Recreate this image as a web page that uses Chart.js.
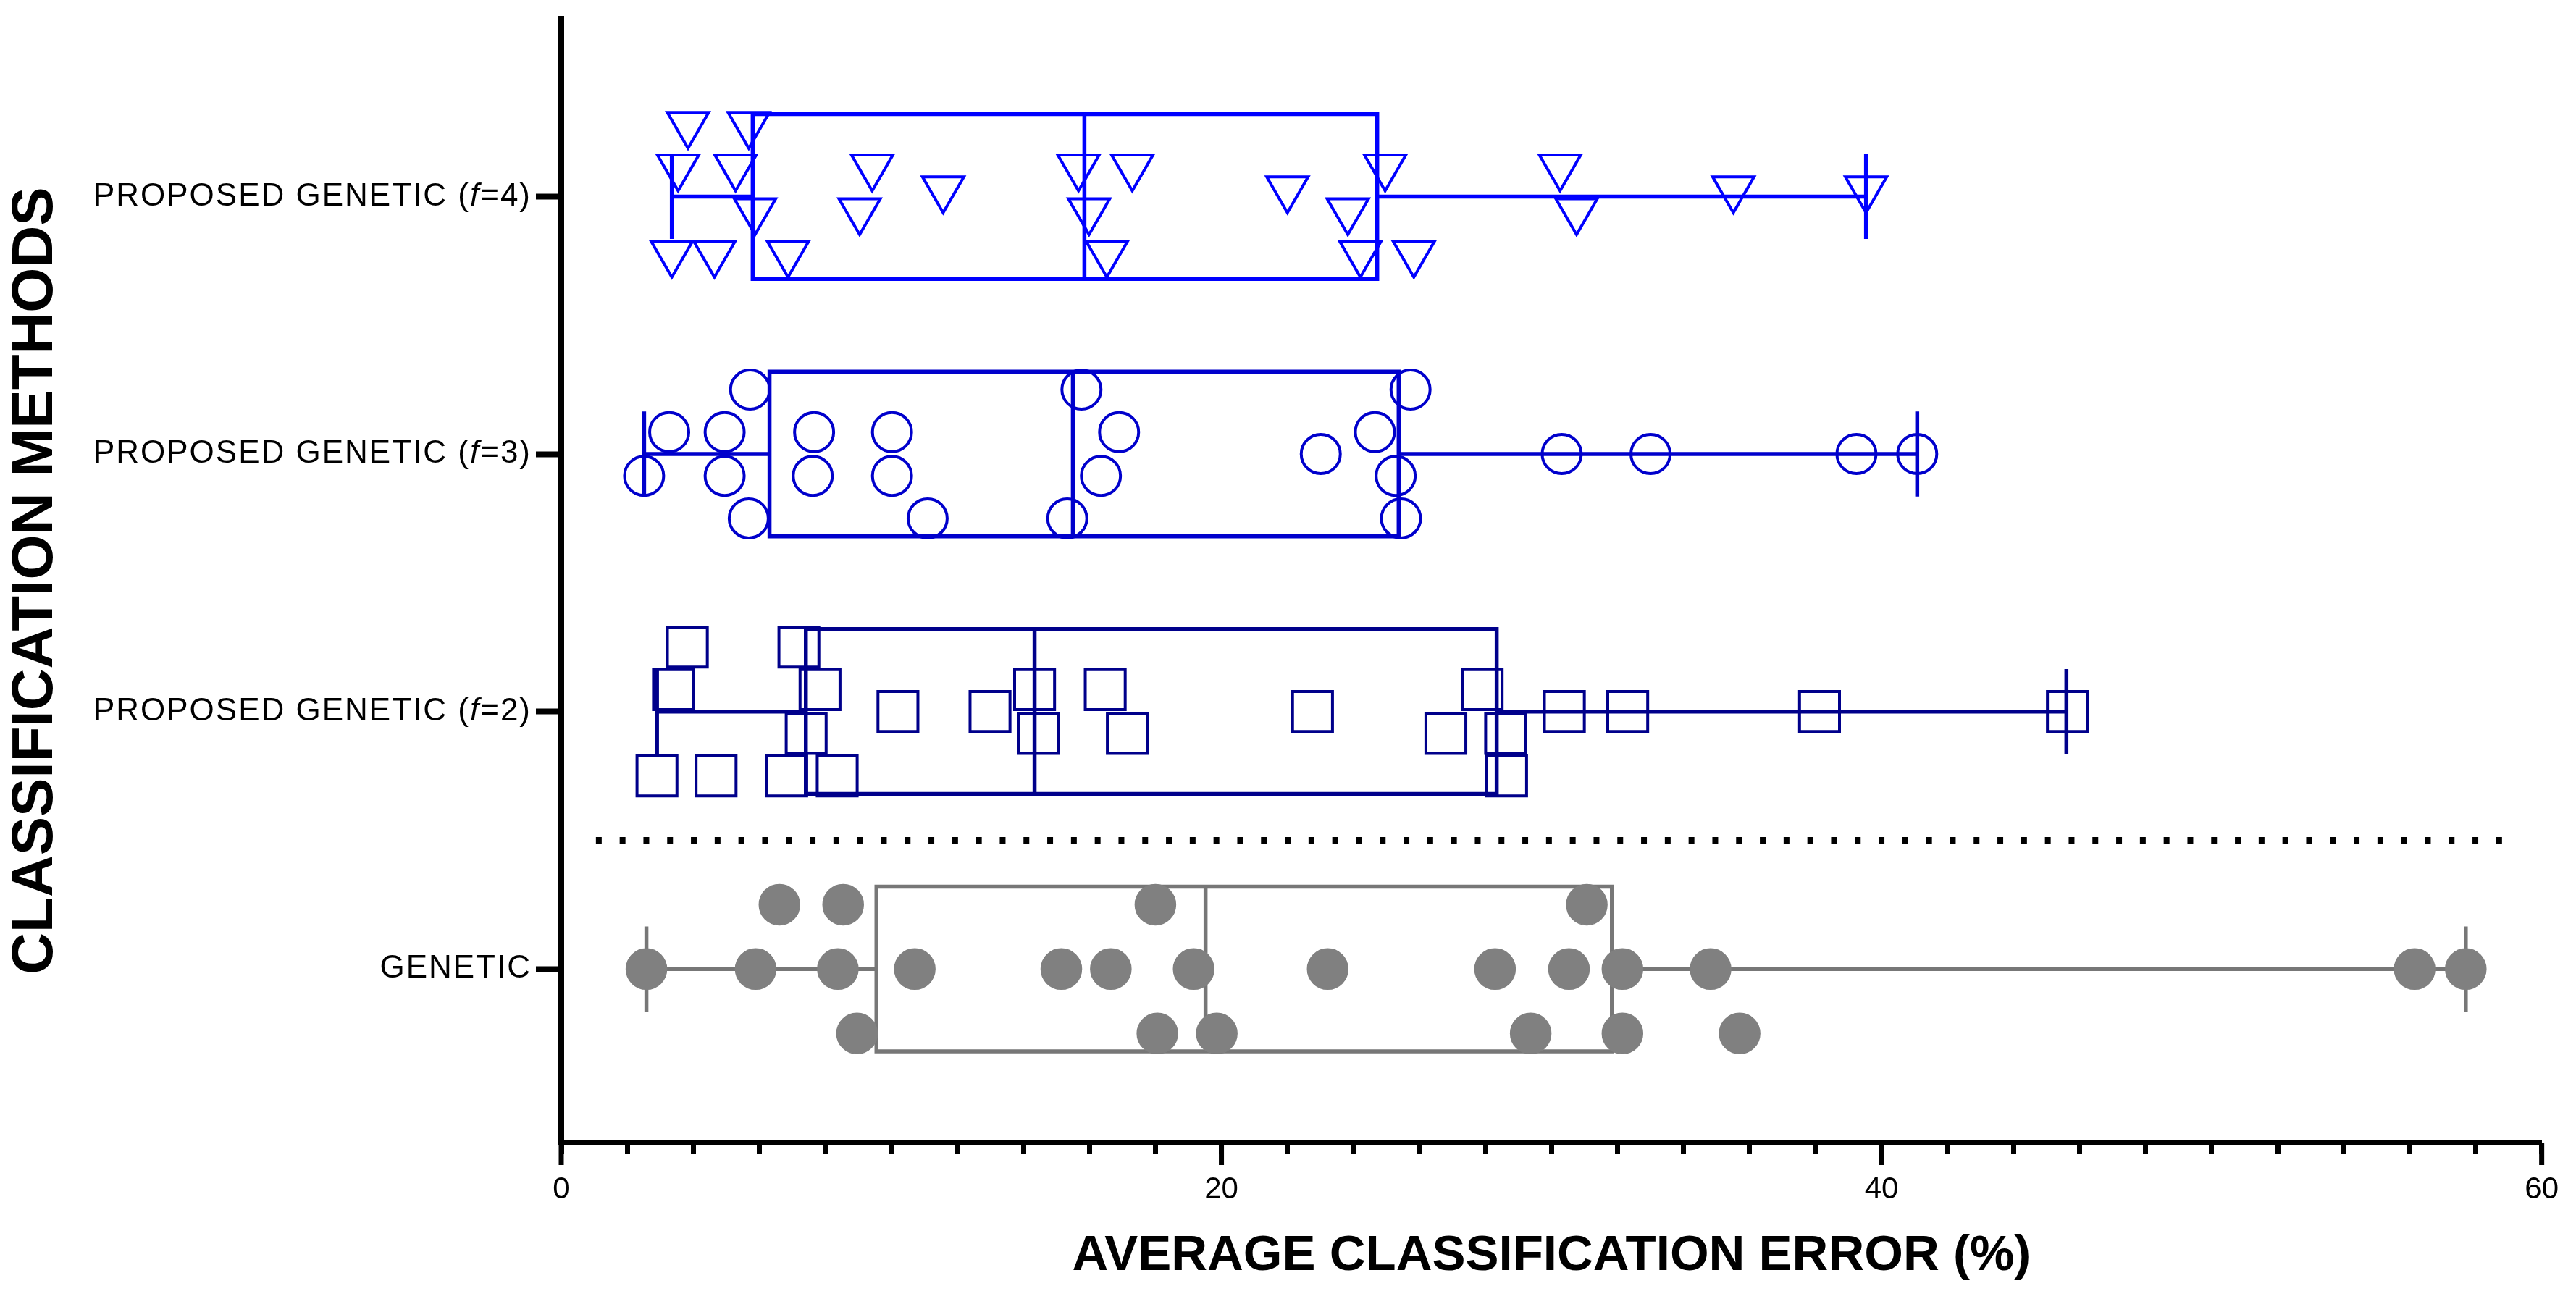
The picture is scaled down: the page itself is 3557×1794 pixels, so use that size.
<!DOCTYPE html>
<html>
<head>
<meta charset="utf-8">
<script src="https://cdn.jsdelivr.net/npm/chart.js@4.4.1/dist/chart.umd.min.js"></script>
<style>
  html, body { margin: 0; padding: 0; background: #fff; }
  #wrap { width: 3557px; height: 1794px; position: relative; }
</style>
</head>
<body>
<div id="wrap"><canvas id="boxChart"></canvas></div>
<script>
// methods, bottom to top (y = 0, 1, 2, 3)
const categories = ['GENETIC', 'PROPOSED GENETIC (f=2)', 'PROPOSED GENETIC (f=3)', 'PROPOSED GENETIC (f=4)'];

// box & whisker stats per method (same order)
const whiskerLow = [2.58, 2.9, 2.51, 3.35];
const quartile1 = [9.55, 7.41, 6.31, 5.80];
const medians = [19.52, 14.34, 15.5, 15.85];
const quartile3 = [31.83, 28.34, 25.37, 24.72];
const whiskerHigh = [57.7, 45.6, 41.08, 39.53];

// single runs: error (%) and the little vertical spread used to avoid overlap
const geneticErr = [6.61, 8.54, 18.0, 31.07,
  2.58, 5.89, 8.38, 10.71, 15.15, 16.65, 19.16, 23.22, 28.29, 30.53, 32.15, 34.82, 56.15, 57.7,
  8.96, 18.06, 19.86, 29.37, 32.15, 35.7];
const geneticRow = [0.25, 0.25, 0.25, 0.25,
  0, 0, 0, 0, 0, 0, 0, 0, 0, 0, 0, 0, 0, 0,
  -0.25, -0.25, -0.25, -0.25, -0.25, -0.25];

const f2Err = [3.82, 7.2,
  3.40, 7.84, 14.34, 16.48, 27.9,
  10.2, 12.99, 22.76, 30.39, 32.31, 38.12, 45.63,
  7.42, 14.45, 17.15, 26.8, 28.61,
  2.9, 4.69, 6.83, 8.36, 28.64];
const f2Row = [0.25, 0.25,
  0.085, 0.085, 0.085, 0.085, 0.085,
  0, 0, 0, 0, 0, 0, 0,
  -0.085, -0.085, -0.085, -0.085, -0.085,
  -0.25, -0.25, -0.25, -0.25, -0.25];

const f3Err = [5.72, 15.76, 25.73,
  3.27, 4.95, 7.66, 10.02, 16.9, 24.65,
  23.01, 30.31, 33.0, 39.24, 41.08,
  2.51, 4.95, 7.62, 10.02, 16.35, 25.28,
  5.68, 11.1, 15.33, 25.44];
const f3Row = [0.25, 0.25, 0.25,
  0.085, 0.085, 0.085, 0.085, 0.085, 0.085,
  0, 0, 0, 0, 0,
  -0.085, -0.085, -0.085, -0.085, -0.085, -0.085,
  -0.25, -0.25, -0.25, -0.25];

const f4Err = [3.84, 5.68,
  3.54, 5.28, 9.42, 15.67, 17.3, 24.96, 30.26,
  11.57, 22.0, 35.51, 39.53,
  5.87, 9.04, 15.99, 23.83, 30.76,
  3.35, 4.64, 6.87, 16.53, 24.21, 25.83];
const f4Row = [0.28, 0.28,
  0.115, 0.115, 0.115, 0.115, 0.115, 0.115, 0.115,
  0.03, 0.03, 0.03, 0.03,
  -0.055, -0.055, -0.055, -0.055, -0.055,
  -0.22, -0.22, -0.22, -0.22, -0.22, -0.22];

const xLabelTicks = [0, 20, 40, 60];
const separatorX = [1.05, 59.35];
const separatorY = 0.5;

// --- styling ---
const FONT = '"Liberation Sans", Arial, Helvetica, sans-serif';
Chart.defaults.font.family = FONT;
Chart.defaults.color = '#000';

const BOX_HALF = 0.32;   // half height of the box (y units)
const CAP_HALF = 0.165;  // half height of whisker caps

const lineColors = ['#777777', '#00008b', '#0000cc', '#0000ff'];

function boxPath(i) {
  const c = i, h = BOX_HALF, k = CAP_HALF;
  const gap = {x: null, y: null};
  return [
    {x: quartile1[i], y: c - h}, {x: quartile3[i], y: c - h},
    {x: quartile3[i], y: c + h}, {x: quartile1[i], y: c + h},
    {x: quartile1[i], y: c - h}, {x: quartile3[i], y: c - h},
    gap,
    {x: medians[i], y: c - h}, {x: medians[i], y: c + h},
    gap,
    {x: whiskerLow[i], y: c}, {x: quartile1[i], y: c},
    gap,
    {x: quartile3[i], y: c}, {x: whiskerHigh[i], y: c},
    gap,
    {x: whiskerLow[i], y: c - k}, {x: whiskerLow[i], y: c + k},
    gap,
    {x: whiskerHigh[i], y: c - k}, {x: whiskerHigh[i], y: c + k}
  ];
}

function pointsOf(err, row, i) {
  return err.map((x, k) => ({x: x, y: i + row[k]}));
}

const lineSets = categories.map((name, i) => ({
  label: name + ' box',
  data: boxPath(i),
  showLine: true,
  spanGaps: false,
  borderColor: lineColors[i],
  borderWidth: 5.5,
  borderJoinStyle: 'miter',
  borderCapStyle: 'butt',
  pointRadius: 0,
  order: 2
}));

const pointSets = [
  {
    label: 'GENETIC',
    data: pointsOf(geneticErr, geneticRow, 0),
    pointStyle: 'circle', pointRadius: 28,
    backgroundColor: '#808080', borderColor: '#808080', borderWidth: 1.5,
    order: 0
  },
  {
    label: 'f=2',
    data: pointsOf(f2Err, f2Row, 1),
    pointStyle: 'rect', pointRadius: 39,
    backgroundColor: 'rgba(0,0,0,0)', borderColor: '#00008b', borderWidth: 4,
    order: 0
  },
  {
    label: 'f=3',
    data: pointsOf(f3Err, f3Row, 2),
    pointStyle: 'circle', pointRadius: 27,
    backgroundColor: 'rgba(0,0,0,0)', borderColor: '#0000cc', borderWidth: 4,
    order: 0
  },
  {
    label: 'f=4',
    data: pointsOf(f4Err, f4Row, 3),
    pointStyle: 'triangle', pointRotation: 180, pointRadius: 33,
    backgroundColor: 'rgba(0,0,0,0)', borderColor: '#0000ff', borderWidth: 4,
    order: 0
  }
];

const separatorSet = {
  label: 'separator',
  data: separatorX.map(x => ({x: x, y: separatorY})),
  showLine: true,
  borderColor: '#000',
  borderWidth: 9,
  borderDash: [8, 24.8],
  borderCapStyle: 'butt',
  pointRadius: 0,
  order: 3
};

// y labels with italic f, plus the longer major ticks on the x axis
const axisExtras = {
  id: 'axisExtras',
  afterDraw(chart) {
    const {ctx, scales: {x, y}} = chart;
    ctx.save();
    ctx.strokeStyle = '#000';
    ctx.lineWidth = 7;
    xLabelTicks.forEach(v => {
      const px = x.getPixelForValue(v);
      ctx.beginPath();
      ctx.moveTo(px, x.top);
      ctx.lineTo(px, x.top + 31);
      ctx.stroke();
    });

    ctx.fillStyle = '#000';
    ctx.textBaseline = 'middle';
    ctx.textAlign = 'left';
    ctx.letterSpacing = '2px';
    const right = y.right - 35 - 6;
    categories.forEach((label, i) => {
      const parts = label.split(/(f)(?==)/);
      const fonts = parts.map((p, k) => (k % 2 ? 'italic ' : '') + '44px ' + FONT);
      let total = 0;
      const widths = parts.map((p, k) => {
        ctx.font = fonts[k];
        const w = ctx.measureText(p).width;
        total += w;
        return w;
      });
      let px = right - total;
      const py = y.getPixelForValue(i);
      parts.forEach((p, k) => {
        ctx.font = fonts[k];
        ctx.fillText(p, px, py);
        px += widths[k];
      });
    });
    ctx.restore();
  }
};

new Chart(document.getElementById('boxChart'), {
  type: 'scatter',
  data: { datasets: [...pointSets, ...lineSets, separatorSet] },
  options: {
    responsive: true,
    maintainAspectRatio: false,
    animation: false,
    events: [],
    layout: { autoPadding: false, padding: { top: 26, right: 36, bottom: 0, left: 0 } },
    plugins: {
      legend: { display: false },
      tooltip: { enabled: false }
    },
    scales: {
      x: {
        type: 'linear',
        position: 'bottom',
        min: 0,
        max: 60,
        afterFit: s => { s.height = 216; },
        ticks: {
          stepSize: 2,
          autoSkip: false,
          maxRotation: 0,
          padding: 24,
          font: { size: 42 },
          color: '#000',
          callback: v => (xLabelTicks.includes(v) ? String(v) : '')
        },
        grid: { drawOnChartArea: false, tickLength: 16, tickWidth: 7, tickColor: '#000' },
        border: { width: 8, color: '#000' },
        title: {
          display: true,
          text: 'AVERAGE CLASSIFICATION ERROR (%)',
          color: '#000',
          font: { size: 69, weight: 'bold', lineHeight: 1.2 },
          padding: { top: 0, bottom: 18 }
        }
      },
      y: {
        type: 'linear',
        min: -0.674,
        max: 3.69,
        afterBuildTicks: s => { s.ticks = categories.map((c, i) => ({value: i})); },
        afterFit: s => { s.width = 775; },
        ticks: { display: false },
        grid: { drawOnChartArea: false, tickLength: 35, tickWidth: 8, tickColor: '#000' },
        border: { width: 8, color: '#000' },
        title: {
          display: true,
          text: 'CLASSIFICATION METHODS',
          color: '#000',
          font: { size: 80, weight: 'bold', lineHeight: 1.2 },
          padding: { top: 2, bottom: 0 }
        }
      }
    }
  },
  plugins: [axisExtras]
});
</script>
</body>
</html>
